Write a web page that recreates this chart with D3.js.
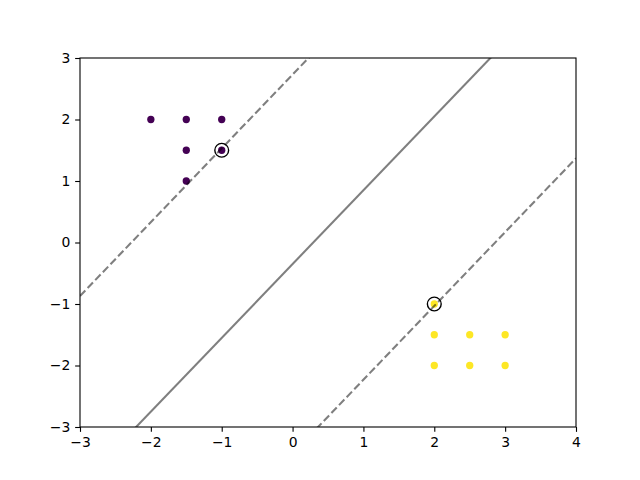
<!DOCTYPE html>
<html><head><meta charset="utf-8">
<script src="https://cdn.jsdelivr.net/npm/d3@7"></script>
<style>body{margin:0;background:#fff}svg{display:block}text{font-family:"DejaVu Sans",sans-serif;font-size:13.9px}</style>
</head><body><svg id="c" width="640" height="480"></svg>
<script>
const xs = [-2, -1.5, -1, -1.5, -1, -1.5, 2, 2, 2.5, 3, 2, 2.5, 3];
const ys = [2, 2, 2, 1.5, 1.5, 1, -1, -1.5, -1.5, -1.5, -2, -2, -2];
const labels = [0, 0, 0, 0, 0, 0, 1, 1, 1, 1, 1, 1, 1];
const supportX = [-1, 2];
const supportY = [1.5, -1];
const coef = [0.3895, -0.3246];
const intercept = -0.1137;
const levels = [-1, 0, 1];
const levelDash = ["7.7,3.3", null, "7.7,3.3"];
const xTicks = [-3, -2, -1, 0, 1, 2, 3, 4];
const yTicks = [-3, -2, -1, 0, 1, 2, 3];
const colors = ["#440154", "#fde725"];

const svg = d3.select("#c");
const L = 80, R = 576, T = 58, B = 427;
const x = d3.scaleLinear().domain([-3, 4]).range([L, R]);
const y = d3.scaleLinear().domain([-3, 3]).range([B, T]);

svg.append("defs").append("clipPath").attr("id", "clip")
  .append("rect").attr("x", L).attr("y", T).attr("width", R - L).attr("height", B - T);

// points
svg.append("g").selectAll("circle").data(xs).join("circle")
  .attr("cx", (d) => x(d)).attr("cy", (d, i) => y(ys[i])).attr("r", 3.65)
  .attr("fill", (d, i) => colors[labels[i]]);

// decision function lines: coef0*x + coef1*y + b = level
const g = svg.append("g").attr("clip-path", "url(#clip)");
levels.forEach((lv, k) => {
  const yAt = (xv) => (lv - intercept - coef[0] * xv) / coef[1];
  g.append("line")
    .attr("x1", x(-3)).attr("y1", y(yAt(-3)))
    .attr("x2", x(4)).attr("y2", y(yAt(4)))
    .attr("stroke", "#000").attr("stroke-opacity", 0.5).attr("stroke-width", 2.08)
    .attr("stroke-dasharray", levelDash[k]);
});

// support vectors
svg.append("g").selectAll("circle").data(supportX).join("circle")
  .attr("cx", (d) => x(d)).attr("cy", (d, i) => y(supportY[i])).attr("r", 6.9)
  .attr("fill", "none").attr("stroke", "#000").attr("stroke-width", 1.39);

// axes
const fmt = (d) => d < 0 ? "\u2212" + Math.abs(d) : String(d);
const ax = svg.append("g").attr("transform", `translate(0,${B})`)
  .call(d3.axisBottom(x).tickValues(xTicks).tickFormat(fmt).tickSize(4.86).tickPadding(4.86));
const ay = svg.append("g").attr("transform", `translate(${L},0)`)
  .call(d3.axisLeft(y).tickValues(yTicks).tickFormat(fmt).tickSize(4.86).tickPadding(4.86));
[ax, ay].forEach(a => {
  a.select(".domain").remove();
  a.selectAll(".tick line").attr("stroke", "#000").attr("stroke-width", 1.1);
  a.selectAll(".tick text").attr("fill", "#000").style("font-size", "13.9px").style("font-family", "DejaVu Sans");
});
svg.append("rect").attr("x", L).attr("y", T).attr("width", R - L).attr("height", B - T)
  .attr("fill", "none").attr("stroke", "#000").attr("stroke-width", 1.1);
</script></body></html>
